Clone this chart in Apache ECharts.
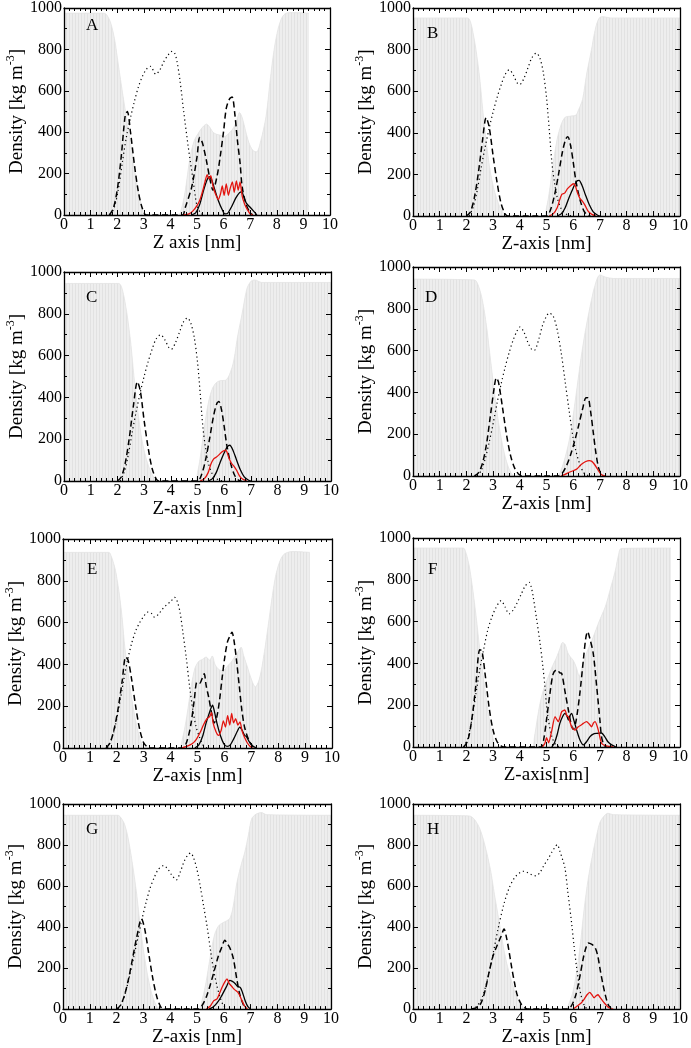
<!DOCTYPE html>
<html>
<head>
<meta charset="utf-8">
<script src="https://cdn.jsdelivr.net/npm/echarts@6/dist/echarts.min.js"></script>
<style>html,body{margin:0;padding:0;background:#fff;}#c{width:691px;height:1048px;}</style>
</head>
<body>
<div id="c"></div>
<script>
// ---------- axis settings ----------
const X_MIN = 0, X_MAX = 10, X_STEP = 1;
const Y_MIN = 0, Y_MAX = 1000, Y_STEP = 200;
const panelLetters = ['A','B','C','D','E','F','G','H'];
const xAxisNames = ['Z axis [nm]','Z-axis [nm]','Z-axis [nm]','Z-axis [nm]','Z-axis [nm]','Z-axis[nm]','Z-axis [nm]','Z-axis [nm]'];

// ---------- data: [z (nm), density (kg m^-3)] ----------
// Panel A
const A_water = [[0,975],[1.5,975],[1.6,968],[1.75,930],[1.9,850],[2.05,720],[2.2,590],[2.35,470],[2.5,350],[2.65,220],[2.8,110],[2.95,30],[3.05,0],[4.3,0],[4.42,33],[4.55,110],[4.74,279],[4.9,360],[5.11,407],[5.25,430],[5.36,439],[5.5,420],[5.6,400],[5.74,390],[5.9,385],[6.05,380],[6.2,395],[6.37,420],[6.5,460],[6.6,495],[6.7,470],[6.82,410],[6.95,350],[7.1,312],[7.24,305],[7.4,360],[7.6,480],[7.75,650],[7.9,800],[8.05,900],[8.2,955],[8.35,975],[8.6,978],[9.2,975]];
const A_tail = [[1.75,0],[1.9,40],[2.05,130],[2.2,260],[2.35,380],[2.5,470],[2.65,550],[2.8,620],[2.95,670],[3.1,705],[3.25,718],[3.45,680],[3.6,700],[3.75,740],[3.9,770],[4.05,790],[4.15,785],[4.25,740],[4.36,650],[4.5,500],[4.67,330],[4.85,170],[5.0,45],[5.15,8],[5.3,0]];
const A_head = [[1.7,0],[1.85,30],[2.0,120],[2.15,280],[2.3,480],[2.38,500],[2.5,400],[2.65,240],[2.8,110],[2.95,30],[3.1,0],[4.45,0],[4.55,33],[4.8,135],[5.0,280],[5.1,375],[5.2,350],[5.35,265],[5.5,165],[5.6,120],[5.75,185],[5.87,280],[6.0,405],[6.1,515],[6.22,560],[6.32,570],[6.42,490],[6.52,360],[6.62,250],[6.7,135],[6.85,50],[7.0,10],[7.1,0]];
const A_black = [[4.8,0],[4.95,10],[5.1,50],[5.25,120],[5.38,170],[5.47,185],[5.55,170],[5.65,130],[5.8,70],[5.95,25],[6.05,5],[6.15,8],[6.3,40],[6.45,80],[6.6,108],[6.68,112],[6.78,80],[6.86,56],[6.98,40],[7.12,20],[7.25,0]];
const A_red = [[4.5,0],[4.7,5],[4.85,20],[5.0,45],[5.1,70],[5.2,110],[5.3,160],[5.38,195],[5.45,175],[5.52,190],[5.6,140],[5.7,100],[5.8,75],[5.88,100],[5.95,140],[6.02,95],[6.1,150],[6.18,95],[6.25,130],[6.33,160],[6.4,110],[6.48,165],[6.55,120],[6.62,160],[6.7,90],[6.8,50],[6.9,25],[7.0,5],[7.1,0]];
// Panel B
const B_water = [[0,952],[2.05,952],[2.15,935],[2.25,880],[2.37,790],[2.5,660],[2.62,500],[2.75,350],[2.9,210],[3.05,120],[3.2,60],[3.35,20],[3.5,3],[3.6,0],[4.9,0],[5.0,40],[5.1,110],[5.25,250],[5.4,370],[5.55,440],[5.7,475],[5.9,480],[6.1,485],[6.2,510],[6.35,560],[6.5,680],[6.67,790],[6.85,910],[7.0,955],[7.15,958],[7.4,952],[10,952]];
const B_tail = [[2.1,0],[2.25,40],[2.4,120],[2.55,230],[2.7,330],[2.85,420],[3.0,500],[3.15,570],[3.3,630],[3.45,680],[3.6,703],[3.75,680],[3.9,640],[4.0,632],[4.15,660],[4.3,710],[4.45,760],[4.62,783],[4.75,760],[4.88,690],[5.0,570],[5.1,420],[5.2,260],[5.3,160],[5.42,80],[5.55,35],[5.7,12],[5.85,3],[6.0,0]];
const B_head = [[2.0,0],[2.15,20],[2.3,90],[2.45,210],[2.6,360],[2.74,473],[2.85,430],[3.0,290],[3.15,160],[3.3,60],[3.45,10],[3.55,0],[5.0,0],[5.15,30],[5.3,100],[5.45,200],[5.6,310],[5.72,370],[5.8,381],[5.9,340],[6.0,260],[6.1,170],[6.25,80],[6.4,25],[6.55,3],[6.65,0]];
const B_black = [[5.4,0],[5.55,10],[5.7,40],[5.85,90],[6.0,135],[6.12,165],[6.22,171],[6.32,150],[6.45,105],[6.6,55],[6.75,20],[6.9,5],[7.0,0]];
const B_red = [[5.1,0],[5.25,10],[5.4,40],[5.5,80],[5.58,105],[5.68,110],[5.78,130],[5.9,145],[6.0,155],[6.08,145],[6.15,115],[6.25,85],[6.35,70],[6.45,50],[6.55,25],[6.7,8],[6.85,0]];
// Panel C
const C_water = [[0,945],[2.05,945],[2.15,930],[2.25,880],[2.37,790],[2.5,660],[2.62,500],[2.75,350],[2.9,210],[3.05,120],[3.2,60],[3.35,20],[3.5,3],[3.6,0],[4.9,0],[5.0,40],[5.1,110],[5.25,250],[5.4,370],[5.55,440],[5.7,470],[5.85,480],[6.05,482],[6.2,510],[6.35,570],[6.5,690],[6.67,800],[6.85,920],[7.0,955],[7.15,962],[7.4,950],[10,950]];
const C_tail = [[2.1,0],[2.25,40],[2.4,120],[2.55,230],[2.7,330],[2.85,420],[3.0,500],[3.15,570],[3.3,630],[3.45,680],[3.62,700],[3.78,675],[3.92,640],[4.02,630],[4.17,660],[4.32,710],[4.47,760],[4.62,780],[4.75,755],[4.88,685],[5.0,570],[5.1,420],[5.2,260],[5.3,160],[5.42,80],[5.55,35],[5.7,12],[5.85,3],[6.0,0]];
const C_head = [[2.0,0],[2.15,20],[2.3,90],[2.45,210],[2.6,360],[2.75,475],[2.86,430],[3.0,290],[3.15,160],[3.3,60],[3.45,10],[3.55,0],[5.0,0],[5.15,30],[5.3,100],[5.45,200],[5.6,310],[5.72,370],[5.8,380],[5.9,340],[6.0,260],[6.1,170],[6.25,80],[6.4,25],[6.55,3],[6.65,0]];
const C_black = [[5.4,0],[5.55,10],[5.7,40],[5.85,90],[6.0,135],[6.12,165],[6.21,171],[6.32,150],[6.45,105],[6.6,55],[6.75,20],[6.9,5],[7.0,0]];
const C_red = [[5.1,0],[5.25,10],[5.4,40],[5.5,80],[5.6,105],[5.71,115],[5.8,125],[5.92,140],[6.05,148],[6.1,140],[6.17,112],[6.27,85],[6.37,70],[6.47,50],[6.57,25],[6.7,8],[6.85,0]];
// Panel D
const D_water = [[0,942],[2.3,938],[2.45,910],[2.6,840],[2.75,720],[2.9,560],[3.05,400],[3.2,260],[3.35,150],[3.5,70],[3.65,20],[3.8,0],[5.4,0],[5.55,30],[5.7,90],[5.85,170],[6.0,290],[6.15,430],[6.3,570],[6.45,690],[6.6,790],[6.75,880],[6.9,945],[7.0,962],[7.2,952],[7.5,945],[10,945]];
const D_tail = [[2.4,0],[2.55,25],[2.7,80],[2.85,160],[3.0,250],[3.15,350],[3.3,440],[3.45,520],[3.6,590],[3.75,650],[3.9,695],[4.0,713],[4.15,690],[4.3,640],[4.45,605],[4.55,602],[4.7,650],[4.85,720],[5.0,765],[5.1,780],[5.25,765],[5.4,700],[5.55,590],[5.7,450],[5.85,310],[6.0,180],[6.1,120],[6.25,55],[6.4,15],[6.55,3],[6.7,0]];
const D_head = [[2.3,0],[2.45,15],[2.6,60],[2.75,150],[2.9,290],[3.05,430],[3.12,470],[3.2,450],[3.35,330],[3.5,200],[3.65,100],[3.8,40],[3.95,10],[4.1,0],[5.45,0],[5.6,15],[5.75,50],[5.9,100],[6.05,165],[6.2,240],[6.35,320],[6.48,375],[6.55,375],[6.65,310],[6.75,210],[6.85,110],[6.95,40],[7.05,8],[7.15,0]];
const D_black = [];
const D_red = [[5.55,0],[5.7,8],[5.85,18],[6.0,25],[6.15,35],[6.3,55],[6.45,68],[6.6,74],[6.7,70],[6.8,55],[6.9,35],[7.0,15],[7.1,3],[7.2,0]];
// Panel E
const E_water = [[0,936],[1.7,936],[1.8,915],[1.95,850],[2.1,730],[2.2,620],[2.3,480],[2.45,330],[2.6,200],[2.75,100],[2.9,30],[3.0,5],[3.05,0],[4.3,0],[4.45,50],[4.6,150],[4.75,280],[4.9,380],[5.05,415],[5.2,425],[5.32,435],[5.45,420],[5.55,440],[5.65,400],[5.8,375],[5.95,370],[6.1,390],[6.25,410],[6.4,440],[6.55,470],[6.62,482],[6.72,440],[6.85,390],[7.0,330],[7.15,292],[7.3,330],[7.45,430],[7.6,560],[7.75,700],[7.9,820],[8.05,890],[8.2,925],[8.4,938],[8.6,940],[9.17,936]];
const E_tail = [[1.65,0],[1.8,40],[1.95,110],[2.1,210],[2.25,320],[2.4,420],[2.55,500],[2.7,560],[2.85,600],[3.0,630],[3.15,650],[3.28,645],[3.4,626],[3.55,640],[3.7,665],[3.85,685],[4.0,700],[4.15,721],[4.25,700],[4.35,650],[4.45,560],[4.58,435],[4.7,300],[4.83,180],[4.95,100],[5.08,50],[5.2,15],[5.35,0]];
const E_head = [[1.6,0],[1.75,25],[1.9,90],[2.05,190],[2.2,320],[2.33,435],[2.42,420],[2.55,330],[2.7,200],[2.85,90],[3.0,25],[3.15,3],[3.25,0],[4.45,0],[4.6,30],[4.75,110],[4.88,230],[4.98,315],[5.08,310],[5.18,335],[5.25,355],[5.32,300],[5.42,240],[5.52,170],[5.62,120],[5.72,150],[5.82,230],[5.92,340],[6.02,440],[6.12,510],[6.22,540],[6.28,554],[6.35,520],[6.45,420],[6.55,300],[6.65,180],[6.75,100],[6.9,40],[7.05,8],[7.2,0]];
const E_black = [[4.9,0],[5.05,15],[5.2,60],[5.32,120],[5.42,160],[5.5,190],[5.56,205],[5.62,180],[5.72,120],[5.85,60],[5.98,20],[6.1,8],[6.22,15],[6.35,45],[6.48,80],[6.57,100],[6.66,85],[6.75,60],[6.82,55],[6.92,30],[7.05,10],[7.2,0]];
const E_red = [[4.4,0],[4.6,8],[4.8,20],[4.95,40],[5.1,75],[5.22,110],[5.35,140],[5.45,150],[5.52,170],[5.58,120],[5.68,80],[5.78,60],[5.88,85],[5.96,130],[6.04,100],[6.12,155],[6.2,110],[6.27,165],[6.34,120],[6.42,140],[6.5,110],[6.58,125],[6.66,80],[6.75,50],[6.85,25],[6.95,8],[7.05,0]];
// Panel F
const F_water = [[0,952],[1.88,952],[1.98,930],[2.1,870],[2.22,770],[2.35,640],[2.5,470],[2.65,320],[2.8,180],[2.95,70],[3.05,15],[3.12,0],[4.45,0],[4.55,50],[4.65,130],[4.76,210],[4.9,280],[5.05,330],[5.2,380],[5.38,430],[5.5,470],[5.6,500],[5.7,490],[5.8,450],[5.9,430],[6.0,415],[6.12,380],[6.22,340],[6.35,390],[6.5,450],[6.7,510],[6.85,560],[7.0,610],[7.2,670],[7.4,760],[7.57,840],[7.7,920],[7.8,950],[9.66,952]];
const F_tail = [[1.9,0],[2.05,40],[2.2,130],[2.35,250],[2.5,370],[2.65,470],[2.8,560],[2.95,620],[3.1,665],[3.3,700],[3.45,670],[3.6,637],[3.75,655],[3.9,690],[4.05,730],[4.2,770],[4.35,788],[4.42,770],[4.5,720],[4.62,620],[4.76,496],[4.86,390],[4.94,290],[5.0,200],[5.07,130],[5.2,50],[5.35,10],[5.5,0]];
const F_head = [[1.9,0],[2.05,30],[2.2,130],[2.35,290],[2.5,465],[2.58,460],[2.7,350],[2.85,190],[3.0,80],[3.15,25],[3.3,5],[3.4,0],[4.8,0],[4.9,40],[5.0,130],[5.13,257],[5.25,350],[5.38,370],[5.5,355],[5.57,352],[5.7,260],[5.82,177],[5.92,110],[6.0,85],[6.1,120],[6.25,258],[6.38,416],[6.47,520],[6.54,552],[6.62,520],[6.75,448],[6.88,289],[7.0,129],[7.06,50],[7.15,10],[7.25,0]];
const F_black = [[5.2,0],[5.3,20],[5.4,60],[5.5,113],[5.6,145],[5.69,161],[5.76,150],[5.82,129],[5.88,150],[5.94,161],[6.02,130],[6.13,81],[6.25,35],[6.38,10],[6.5,25],[6.63,50],[6.75,62],[6.88,65],[7.06,67],[7.18,50],[7.3,25],[7.44,10],[7.6,0]];
const F_red = [[4.85,0],[4.94,18],[5.0,45],[5.08,20],[5.2,80],[5.32,145],[5.44,121],[5.57,169],[5.69,177],[5.76,150],[5.82,145],[5.94,97],[6.07,81],[6.19,97],[6.3,105],[6.38,113],[6.5,121],[6.6,110],[6.69,97],[6.76,115],[6.82,121],[6.94,81],[7.06,18],[7.25,5],[7.5,0]];
// Panel G
const G_water = [[0,945],[2.05,945],[2.15,935],[2.3,900],[2.45,820],[2.6,700],[2.75,560],[2.86,430],[3.0,290],[3.15,170],[3.3,80],[3.45,25],[3.55,5],[3.65,0],[5.05,0],[5.2,50],[5.35,140],[5.5,260],[5.65,360],[5.8,405],[5.95,420],[6.1,430],[6.23,443],[6.35,500],[6.48,610],[6.62,690],[6.79,769],[6.92,850],[7.04,928],[7.2,950],[7.4,958],[7.6,948],[10,945]];
const G_tail = [[2.05,0],[2.2,30],[2.35,90],[2.5,170],[2.65,260],[2.8,350],[2.95,440],[3.1,520],[3.25,590],[3.4,640],[3.55,680],[3.75,700],[3.9,685],[4.05,655],[4.23,630],[4.38,670],[4.52,720],[4.65,750],[4.76,761],[4.88,735],[5.0,680],[5.12,600],[5.25,500],[5.38,400],[5.5,290],[5.62,190],[5.75,110],[5.88,50],[6.0,15],[6.15,0]];
const G_head = [[2.0,0],[2.15,20],[2.3,70],[2.45,150],[2.6,250],[2.75,350],[2.93,440],[3.05,390],[3.2,270],[3.35,150],[3.5,60],[3.65,10],[3.75,0],[5.05,0],[5.2,20],[5.35,60],[5.5,120],[5.65,190],[5.8,260],[5.92,300],[6.04,336],[6.12,320],[6.22,300],[6.35,250],[6.48,150],[6.6,70],[6.75,15],[6.85,0]];
const G_black = [[5.45,0],[5.6,10],[5.75,30],[5.9,60],[6.02,90],[6.12,115],[6.22,140],[6.32,135],[6.42,125],[6.52,110],[6.62,105],[6.7,80],[6.8,40],[6.9,12],[7.0,0]];
const G_red = [[5.35,0],[5.5,15],[5.62,40],[5.75,50],[5.85,80],[5.95,110],[6.05,135],[6.12,147],[6.2,125],[6.3,110],[6.4,95],[6.5,85],[6.58,70],[6.68,40],[6.78,15],[6.88,0]];
// Panel H
const H_water = [[0,945],[2.1,942],[2.3,925],[2.5,880],[2.69,800],[2.9,680],[3.05,560],[3.19,454],[3.35,330],[3.5,230],[3.69,137],[3.85,70],[4.0,30],[4.15,8],[4.3,0],[5.7,0],[5.85,30],[6.0,90],[6.15,200],[6.28,330],[6.38,454],[6.5,580],[6.62,680],[6.75,770],[6.9,860],[7.0,910],[7.13,937],[7.3,955],[7.5,948],[10,945]];
const H_tail = [[2.2,0],[2.4,15],[2.6,60],[2.8,150],[3.0,270],[3.2,400],[3.4,510],[3.6,590],[3.8,640],[4.0,665],[4.13,672],[4.3,665],[4.45,655],[4.6,650],[4.75,665],[4.9,700],[5.05,730],[5.2,765],[5.32,790],[5.4,802],[5.5,770],[5.6,730],[5.69,690],[5.8,570],[5.94,420],[6.03,310],[6.13,200],[6.22,120],[6.31,58],[6.44,11],[6.55,0]];
const H_head = [[2.2,0],[2.4,8],[2.55,30],[2.7,90],[2.85,180],[3.0,260],[3.15,310],[3.3,355],[3.41,390],[3.5,350],[3.6,280],[3.7,200],[3.8,130],[3.9,70],[4.05,25],[4.2,5],[4.35,0],[5.8,0],[5.95,20],[6.1,70],[6.25,160],[6.38,250],[6.48,300],[6.56,322],[6.7,315],[6.82,300],[6.92,260],[7.0,200],[7.1,130],[7.2,70],[7.3,25],[7.4,5],[7.5,0]];
const H_black = [];
const H_red = [[6.0,0],[6.15,15],[6.3,30],[6.42,50],[6.52,70],[6.62,82],[6.7,70],[6.78,55],[6.86,65],[6.93,70],[7.0,58],[7.1,40],[7.2,25],[7.3,10],[7.4,3],[7.5,0]];

const panelData = [
  [A_water, A_tail, A_head, A_black, A_red],
  [B_water, B_tail, B_head, B_black, B_red],
  [C_water, C_tail, C_head, C_black, C_red],
  [D_water, D_tail, D_head, D_black, D_red],
  [E_water, E_tail, E_head, E_black, E_red],
  [F_water, F_tail, F_head, F_black, F_red],
  [G_water, G_tail, G_head, G_black, G_red],
  [H_water, H_tail, H_head, H_black, H_red]
];

// ---------- layout ----------
const gridBoxes = [
  {left: 64, top: 6, width: 266, height: 209},
  {left: 413, top: 6, width: 268, height: 210},
  {left: 64, top: 272, width: 267, height: 209},
  {left: 413, top: 267, width: 268, height: 209},
  {left: 63, top: 539, width: 269, height: 209},
  {left: 413, top: 538, width: 267, height: 209},
  {left: 63, top: 804, width: 268, height: 210},
  {left: 413, top: 804, width: 267, height: 211}
];
const letterPos = [[86,17],[427,25],[86,289],[425,289],[87,561],[428,561],[86,821],[427,821]];

const FONT = 'Liberation Serif';
const grids = [], xAxes = [], yAxes = [], series = [], titles = [];
const tickCommon = {show: true, inside: true, length: 5, lineStyle: {color: '#000', width: 1}};
const lineCommon = {show: true, onZero: false, lineStyle: {color: '#000', width: 1.3}};
const plainNum = v => String(v);

gridBoxes.forEach((g, i) => {
  grids.push(Object.assign({containLabel: false}, g));
  const xBase = {
    type: 'value', gridIndex: i, min: X_MIN, max: X_MAX, interval: X_STEP, z: 20,
    axisLine: lineCommon, axisTick: tickCommon,
    minorTick: {show: true, splitNumber: 5, length: 3, lineStyle: {color: '#000', width: 1}},
    splitLine: {show: false}, minorSplitLine: {show: false}
  };
  xAxes.push(Object.assign({}, xBase, {
    position: 'bottom',
    axisLabel: {show: true, color: '#000', fontFamily: FONT, fontSize: 16, margin: 2, formatter: plainNum},
    name: xAxisNames[i], nameLocation: 'middle', nameGap: 17,
    nameTextStyle: {color: '#000', fontFamily: FONT, fontSize: 19}
  }));
  xAxes.push(Object.assign({}, xBase, {position: 'top', axisLabel: {show: false}}));
  const yBase = {
    type: 'value', gridIndex: i, min: Y_MIN, max: Y_MAX, interval: Y_STEP, z: 20,
    axisLine: lineCommon, axisTick: tickCommon,
    minorTick: {show: true, splitNumber: 2, length: 3, lineStyle: {color: '#000', width: 1}},
    splitLine: {show: false}, minorSplitLine: {show: false}
  };
  yAxes.push(Object.assign({}, yBase, {
    position: 'left',
    axisLabel: {show: true, color: '#000', fontFamily: FONT, fontSize: 16, margin: 2, formatter: plainNum},
    name: '{t|Density [kg m}{s|-3}{t|]}', nameLocation: 'middle', nameGap: 35, nameRotate: 90,
    nameTextStyle: {color: '#000', fontFamily: FONT, fontSize: 19,
      rich: {
        t: {fontFamily: FONT, fontSize: 19, color: '#000', lineHeight: 24},
        s: {fontFamily: FONT, fontSize: 12, color: '#000', lineHeight: 12, verticalAlign: 'top'}
      }}
  }));
  yAxes.push(Object.assign({}, yBase, {position: 'right', axisLabel: {show: false}}));

  const xi = 2 * i, yi = 2 * i;
  const [water, tail, head, black, red] = panelData[i];
  series.push({
    type: 'line', xAxisIndex: xi, yAxisIndex: yi, data: water, symbol: 'none', smooth: 0.3,
    lineStyle: {width: 0.8, color: '#e4e4e4'},
    areaStyle: {color: '#eeeeee', opacity: 1},
    itemStyle: {decal: {symbol: 'rect', symbolSize: 1, dashArrayX: [1, 2], dashArrayY: [4, 0], color: '#e2e2e2', backgroundColor: '#eeeeee'}},
    z: 1, silent: true
  });
  series.push({
    type: 'line', xAxisIndex: xi, yAxisIndex: yi, data: tail, symbol: 'none', smooth: 0.3,
    lineStyle: {width: 1.2, color: '#000', type: [1.2, 3]}, z: 3
  });
  series.push({
    type: 'line', xAxisIndex: xi, yAxisIndex: yi, data: head, symbol: 'none', smooth: 0.3,
    lineStyle: {width: 1.5, color: '#000', type: [6, 3.5]}, z: 4
  });
  if (black.length) series.push({
    type: 'line', xAxisIndex: xi, yAxisIndex: yi, data: black, symbol: 'none', smooth: 0.25,
    lineStyle: {width: 1.3, color: '#000'}, z: 5
  });
  series.push({
    type: 'line', xAxisIndex: xi, yAxisIndex: yi, data: red, symbol: 'none', smooth: 0.2,
    lineStyle: {width: 1.3, color: '#e3140f'}, z: 6
  });
  titles.push({
    text: panelLetters[i], left: letterPos[i][0], top: letterPos[i][1], padding: 0,
    textStyle: {fontFamily: FONT, fontSize: 17, fontWeight: 'normal', color: '#000'}
  });
});

const chart = echarts.init(document.getElementById('c'), null, {renderer: 'canvas'});
chart.setOption({
  animation: false,
  backgroundColor: '#ffffff',
  title: titles,
  grid: grids,
  xAxis: xAxes,
  yAxis: yAxes,
  series: series
});
</script>
</body>
</html>
